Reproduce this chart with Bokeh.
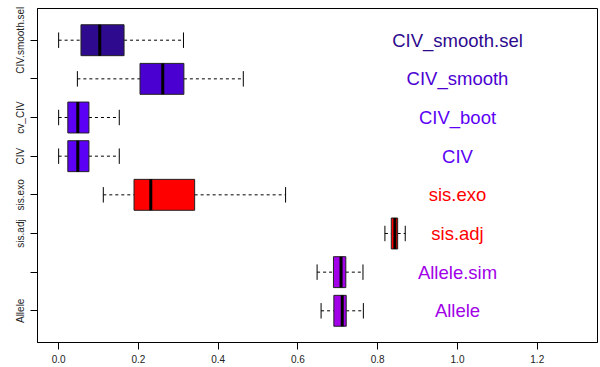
from bokeh.plotting import figure
from bokeh.embed import file_html
from bokeh.resources import INLINE
from bokeh.models import Range1d, FixedTicker, ColumnDataSource
from bokeh.core.properties import value

# Data (bottom to top)
positions = [1, 2, 3, 4, 5, 6, 7, 8]
axis_labels = ["Allele", "", "sis.adj", "sis.exo", "CIV", "cv_CIV", "", "CIV.smooth.sel"]
annot_labels = ["Allele", "Allele.sim", "sis.adj", "sis.exo", "CIV", "CIV_boot", "CIV_smooth", "CIV_smooth.sel"]
whisk_lo = [0.658, 0.648, 0.818, 0.112, 0.000, 0.000, 0.047, 0.000]
q1 =       [0.690, 0.689, 0.834, 0.189, 0.023, 0.023, 0.204, 0.056]
median =   [0.711, 0.708, 0.843, 0.231, 0.048, 0.048, 0.261, 0.103]
q3 =       [0.721, 0.720, 0.850, 0.341, 0.076, 0.076, 0.314, 0.164]
whisk_hi = [0.764, 0.763, 0.869, 0.569, 0.152, 0.152, 0.463, 0.313]
colors = ["#A100E8", "#A100E8", "#FF0000", "#FF0000", "#5C00F5", "#5C00F5", "#4B00D2", "#2E0A8E"]
x_ticks = [0.0, 0.2, 0.4, 0.6, 0.8, 1.0, 1.2]
annot_x = 1.0

box_h = 0.8
staple_h = 0.4

src = ColumnDataSource(dict(
    y=positions, lo=whisk_lo, q1=q1, med=median, q3=q3, hi=whisk_hi, color=colors,
    label=annot_labels, ax=[annot_x] * len(positions),
    ytop=[p + box_h / 2 for p in positions], ybot=[p - box_h / 2 for p in positions],
    stop=[p + staple_h / 2 for p in positions], sbot=[p - staple_h / 2 for p in positions],
))

p = figure(width=600, height=367, output_backend="svg", toolbar_location=None,
           x_range=Range1d(-0.053, 1.351), y_range=Range1d(0.18, 8.82),
           min_border_left=37, min_border_right=3, min_border_top=8, min_border_bottom=25)

p.grid.visible = False
p.outline_line_color = "black"
p.outline_line_width = 1
p.background_fill_color = "white"
p.border_fill_color = "white"

# whiskers
p.segment(x0="lo", y0="y", x1="q1", y1="y", source=src, line_color="black", line_dash="3 3", line_width=1)
p.segment(x0="q3", y0="y", x1="hi", y1="y", source=src, line_color="black", line_dash="3 3", line_width=1)
# staples
p.segment(x0="lo", y0="sbot", x1="lo", y1="stop", source=src, line_color="black", line_width=1)
p.segment(x0="hi", y0="sbot", x1="hi", y1="stop", source=src, line_color="black", line_width=1)
# boxes
p.quad(left="q1", right="q3", bottom="ybot", top="ytop", source=src,
       fill_color="color", line_color="#222222", line_width=1)
# medians
p.segment(x0="med", y0="ybot", x1="med", y1="ytop", source=src, line_color="black", line_width=3)
# annotations
p.text(x="ax", y="y", text="label", source=src, text_color="color",
       text_align="center", text_baseline="middle",
       text_font=value("Liberation Sans"), text_font_size="18.5px")

# axes
p.xaxis.ticker = FixedTicker(ticks=x_ticks)
p.xaxis.major_label_overrides = {t: f"{t:.1f}" for t in x_ticks}
p.yaxis.ticker = FixedTicker(ticks=positions)
p.yaxis.major_label_overrides = {pos: lab for pos, lab in zip(positions, axis_labels)}
p.yaxis.major_label_orientation = "parallel"
for ax in (p.xaxis, p.yaxis):
    ax.major_label_text_font = "Liberation Sans"
    ax.major_label_text_font_size = "10px"
    ax.major_label_text_color = "#222222"
    ax.axis_line_color = "black"
    ax.major_tick_line_color = "black"
    ax.major_tick_out = 7
    ax.major_tick_in = 0
    ax.minor_tick_line_color = None
p.xaxis.major_label_standoff = 5
p.yaxis.major_label_standoff = 4

open("out.html", "w").write(file_html(p, INLINE))
